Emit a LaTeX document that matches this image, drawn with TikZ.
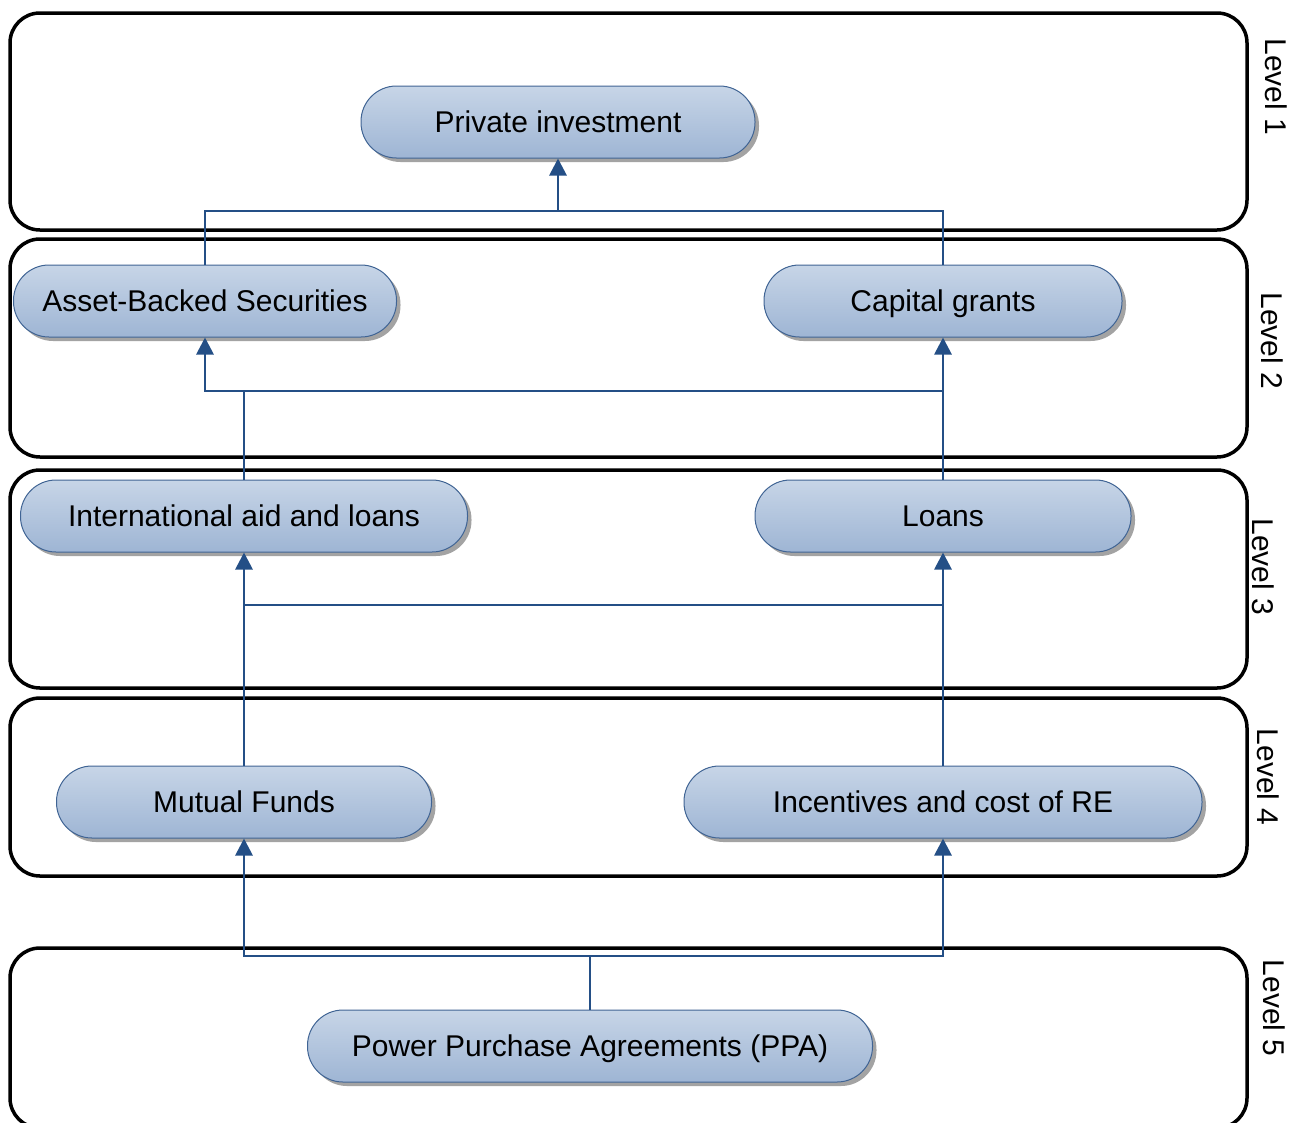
\documentclass[tikz,border=0pt]{standalone}
\usepackage{fontspec}
\setmainfont{Liberation Sans}
\usetikzlibrary{arrows.meta,shadows}
\definecolor{boxtop}{RGB}{199,213,231}
\definecolor{boxbot}{RGB}{158,181,212}
\definecolor{boxline}{RGB}{64,100,148}
\definecolor{linkcol}{RGB}{36,79,134}
\begin{document}
\begin{tikzpicture}[x=1pt,y=-1pt,
  level/.style={draw=black, line width=3.5pt, rounded corners=30pt},
  levellabel/.style={rotate=-90, font=\fontsize{30}{36}\selectfont, inner sep=0pt},
  item/.style={draw=boxline, line width=1pt, top color=boxtop, bottom color=boxbot,
    rounded corners=35.5pt, minimum height=72pt, inner sep=0pt,
    text height=21.5pt, text depth=1pt,
    font=\fontsize{30}{36}\selectfont,
    drop shadow={shadow xshift=4pt, shadow yshift=-4pt, fill=black!45, opacity=0.8}},
  link/.style={draw=linkcol, line width=2.8pt},
  arr/.style={link, -{Triangle[width=17pt,length=17pt]}}
]
\useasboundingbox (0,0) rectangle (1306,1122);
\clip (0,0) rectangle (1306,1122);

% level frames
\draw[level] (10,13)  rectangle (1247,230);
\draw[level] (10,239) rectangle (1247,457);
\draw[level] (10,470) rectangle (1247,688);
\draw[level] (10,698) rectangle (1247,876);
\draw[level] (10,948) rectangle (1247,1128);

% level captions
\node[levellabel] (l1) at (1276,87)  {Level 1};
\node[levellabel] (l2) at (1272,341) {Level 2};
\node[levellabel] (l3) at (1263,567) {Level 3};
\node[levellabel] (l4) at (1268,777) {Level 4};
\node[levellabel] (l5) at (1274,1008) {Level 5};

% funding sources
\node[item, minimum width=394pt] (pi)  at (558,122)  {Private investment};
\node[item, minimum width=383pt] (abs) at (205,301)  {Asset-Backed Securities};
\node[item, minimum width=358pt] (cg)  at (943,301)  {Capital grants};
\node[item, minimum width=447pt] (ia)  at (244,516)  {International aid and loans};
\node[item, minimum width=376pt] (ln)  at (943,516)  {Loans};
\node[item, minimum width=375pt] (mf)  at (244,802)  {Mutual Funds};
\node[item, minimum width=518pt] (inc) at (943,802)  {Incentives and cost of RE};
\node[item, minimum width=565pt] (ppa) at (590,1046) {Power Purchase Agreements (PPA)};

% junction points
\coordinate (j1) at (558,211);
\coordinate (j2) at (244,391);
\coordinate (j3) at (244,605);
\coordinate (j4) at (590,956);

% level 2 -> level 1
\draw[link] (abs.north) |- (j1);
\draw[link] (cg.north) |- (j1);
\draw[arr] (j1) -- (pi.south);

% level 3 -> level 2
\draw[arr] (ia.north) -- (j2) -| (abs.south);
\draw[link] (j2) -- (j2 -| ln.north);
\draw[arr] (ln.north) -- (cg.south);

% level 4 -> level 3
\draw[arr] (mf.north) -- (ia.south);
\draw[arr] (inc.north) -- (ln.south);
\draw[link] (j3) -- (j3 -| inc.north);

% level 5 -> level 4
\draw[arr] (ppa.north) -- (j4) -| (mf.south);
\draw[arr] (j4) -| (inc.south);
\end{tikzpicture}
\end{document}
